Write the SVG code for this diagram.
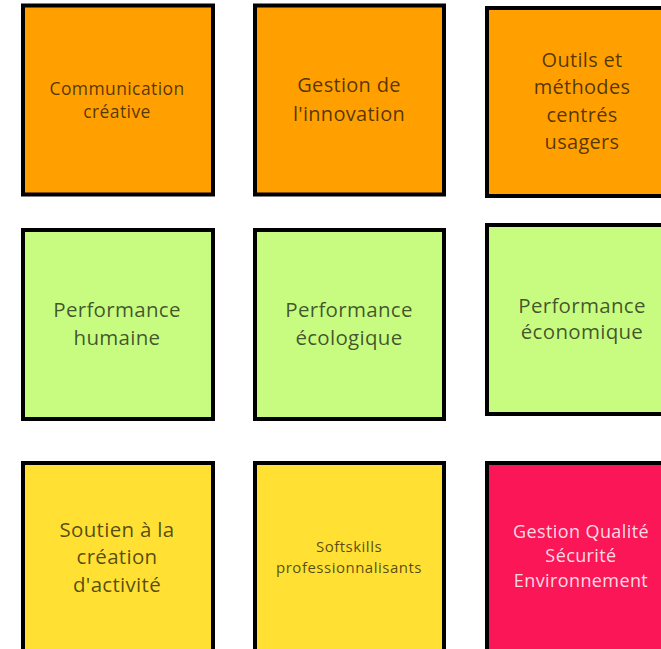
<svg xmlns="http://www.w3.org/2000/svg" width="661" height="649" viewBox="0 0 661 649">
<style>
.box{stroke:#000;stroke-width:4}
.o{fill:#FFA000}
.g{fill:#C8FC80}
.y{fill:#FFE033}
.p{fill:#FA1657}
text{font-family:"Open Sans","Liberation Sans",sans-serif;text-anchor:middle}
.dk{fill:#000;fill-opacity:0.68}
.wt{fill:#fff;fill-opacity:0.85}
</style>
<rect width="661" height="649" fill="#fff"/>
<g id="connectors"/>
<g id="n1"><rect class="box o" x="23" y="5.5" width="190" height="189"/>
<text class="dk" font-size="17.5" letter-spacing="0.4"><tspan x="117" y="95">Communication</tspan><tspan x="117" y="118">créative</tspan></text></g>
<g id="n2"><rect class="box o" x="255" y="5.5" width="189" height="189"/>
<text class="dk" font-size="20" letter-spacing="0.3"><tspan x="349" y="92">Gestion de</tspan><tspan x="349" y="121">l'innovation</tspan></text></g>
<g id="n3"><rect class="box o" x="487" y="8" width="190" height="188"/>
<text class="dk" font-size="20" letter-spacing="0.3"><tspan x="582" y="67">Outils et</tspan><tspan x="582" y="94">méthodes</tspan><tspan x="582" y="122">centrés</tspan><tspan x="582" y="149">usagers</tspan></text></g>
<g id="n4"><rect class="box g" x="23" y="230" width="190" height="189"/>
<text class="dk" font-size="20.5" letter-spacing="0.3"><tspan x="117" y="317">Performance</tspan><tspan x="117" y="345">humaine</tspan></text></g>
<g id="n5"><rect class="box g" x="255" y="230" width="189" height="189"/>
<text class="dk" font-size="20.5" letter-spacing="0.3"><tspan x="349" y="317">Performance</tspan><tspan x="349" y="345">écologique</tspan></text></g>
<g id="n6"><rect class="box g" x="487" y="225" width="190" height="189"/>
<text class="dk" font-size="20.5" letter-spacing="0.3"><tspan x="582" y="313">Performance</tspan><tspan x="582" y="339">économique</tspan></text></g>
<g id="n7"><rect class="box y" x="23" y="463" width="190" height="200"/>
<text class="dk" font-size="20.5" letter-spacing="0.3"><tspan x="117" y="537">Soutien à la</tspan><tspan x="117" y="564">création</tspan><tspan x="117" y="592">d'activité</tspan></text></g>
<g id="n8"><rect class="box y" x="255" y="463" width="189" height="200"/>
<text class="dk" font-size="15" letter-spacing="0.5"><tspan x="349" y="552">Softskills</tspan><tspan x="349" y="573">professionnalisants</tspan></text></g>
<g id="n9"><rect class="box p" x="487" y="463" width="190" height="200"/>
<text class="wt" font-size="18" letter-spacing="0.4"><tspan x="581" y="538">Gestion Qualité</tspan><tspan x="581" y="562">Sécurité</tspan><tspan x="581" y="587">Environnement</tspan></text></g>
</svg>
